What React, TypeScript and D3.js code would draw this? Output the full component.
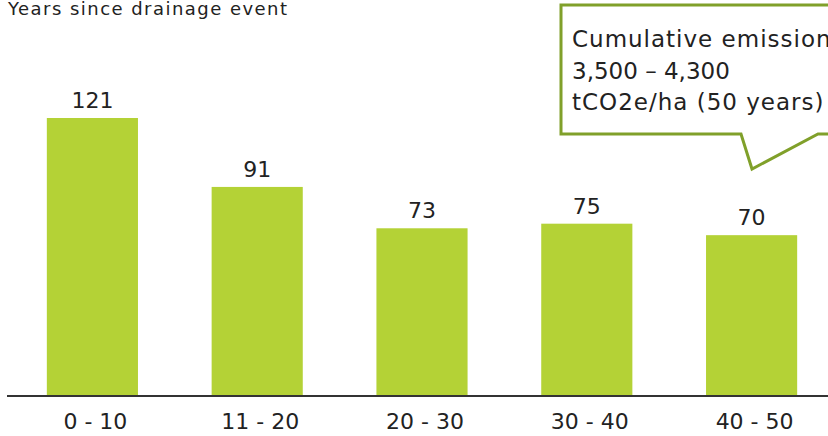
import React from "react";
import * as d3 from "d3";

const categories = ["0 - 10", "11 - 20", "20 - 30", "30 - 40", "40 - 50"];
const values = [121, 91, 73, 75, 70];
const titleText = "Years since drainage event";
const calloutLines = ["Cumulative emissions", "3,500 \u2013 4,300", "tCO2e/ha (50 years)"];

const W = 828;
const H = 436;
const FONT = "'DejaVu Sans', sans-serif";
const BAR = "#b4d236";
const GREEN = "#80a02a";

export default function App() {
  const x = d3.scaleBand<string>().domain(categories).range([10, 834]).paddingInner(0.447).paddingOuter(0.2235);
  const y = d3.scaleLinear().domain([0, 140]).range([396, 396 - 140 * (278 / 121)]);
  const bw = x.bandwidth();

  const callout = d3.path();
  callout.moveTo(561, 5);
  callout.lineTo(860, 5);
  callout.lineTo(860, 134);
  callout.lineTo(818, 134);
  callout.lineTo(752, 169);
  callout.lineTo(741, 134);
  callout.lineTo(561, 134);
  callout.closePath();

  return (
    <svg width={W} height={H} style={{ position: "fixed", left: 0, top: 0, background: "#fff" }} fontFamily={FONT}>
      <rect width={W} height={H} fill="#fff" />
      <text x={8} y={15} fontSize={18} fill="#222" textLength={279} lengthAdjust="spacing">{titleText}</text>
      {categories.map((c, i) => (
        <g key={c}>
          <rect x={x(c)} y={y(values[i])} width={bw} height={y(0) - y(values[i])} fill={BAR} />
          <text x={(x(c) as number) + bw / 2} y={y(values[i]) - 10} fontSize={22} textAnchor="middle" fill="#222">
            {values[i]}
          </text>
          <text x={(x(c) as number) + bw / 2 + 3} y={429} fontSize={22} textAnchor="middle" fill="#222">
            {c}
          </text>
        </g>
      ))}
      <line x1={7} x2={W} y1={y(0)} y2={y(0)} stroke="#333" strokeWidth={2} />
      <path d={callout.toString()} fill="#fff" stroke={GREEN} strokeWidth={3} strokeLinejoin="miter" />
      {calloutLines.map((t, i) => (
        <text key={i} x={572} y={47 + i * 31.5} fontSize={23} fill="#222" letterSpacing={i === 1 ? 0 : 1}>{t}</text>
      ))}
    </svg>
  );
}
